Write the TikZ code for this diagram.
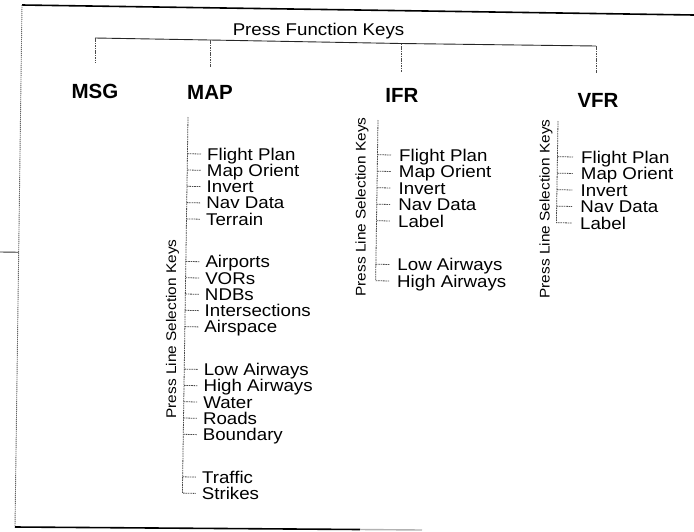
\documentclass[tikz,border=0pt]{standalone}
\usepackage{fontspec}
\setmainfont{Liberation Sans}
\newfontfamily\widefont{Liberation Sans}[FakeStretch=1.1]
\usetikzlibrary{calc}
\begin{document}
\begin{tikzpicture}[x=1pt,y=-1pt,
  itemtext/.style={font=\widefont\fontsize{17}{17}\selectfont, anchor=west, inner sep=0pt, text height=12pt, text depth=0pt},
  headtext/.style={font=\bfseries\fontsize{20.5}{20.5}\selectfont, inner sep=0pt, text height=14.5pt, text depth=0pt},
  sidetext/.style={font=\widefont\fontsize{14}{14}\selectfont, rotate=90, inner sep=0pt},
  titletext/.style={font=\widefont\fontsize{17}{17}\selectfont, inner sep=0pt, text height=12pt, text depth=0pt},
  conn/.style={draw=black!70, line width=0.8pt, dash pattern=on 1.6pt off 0.8pt},
  bracket/.style={draw=black!85, line width=0.9pt},
  framebold/.style={draw=black, line width=1.6pt},
  framethin/.style={draw=black!60, line width=0.9pt, dash pattern=on 1.2pt off 0.8pt},
]
\useasboundingbox (0,0) rectangle (694,531);

% frame
\coordinate (tl) at (22,5);
\coordinate (tr) at (694,15);
\coordinate (bl) at (15,527);
\coordinate (bm) at (360,529.5);
\coordinate (br) at (422,530);
\coordinate (lefttick) at (0,252);
\draw[framebold] (tl) -- (tr);
\draw[framethin] (tl) -- (bl);
\draw[framebold] (bl) -- (bm);
\draw[draw=black!30, line width=1.4pt] (bm) -- (br);
\draw[draw=black!80, line width=0.9pt] (lefttick) -- ($(tl)!(lefttick)!(bl)$);

% title and heads
\node[titletext] (title) at (318.5,29) {Press Function Keys};
\node[headtext] (msg) at (95,91.5) {MSG};
\node[headtext] (map) at (210,92.5) {MAP};
\node[headtext] (ifr) at (402,95.5) {IFR};
\node[headtext] (vfr) at (598,100) {VFR};

\coordinate (b1) at (95,38);
\coordinate (b2) at (210,40);
\coordinate (b3) at (401,43.5);
\coordinate (b4) at (596,46);
\draw[bracket] (b1) -- (b2) -- (b3) -- (b4);
\draw[conn, shorten >=22pt] (b1) -- (b1 |- msg.north);
\draw[conn, shorten >=18pt] (b2) -- (b2 |- map.north);
\draw[conn, shorten >=16pt] (b3) -- (b3 |- ifr.north);
\draw[conn, shorten >=20pt] (b4) -- (b4 |- vfr.north);

% MAP list
\node[sidetext] (mapside) at (172.5,329) {Press Line Selection Keys};
\coordinate (mtop) at (188,117);
\coordinate (mbot) at (182.3,500);
\foreach \t/\y [count=\k] in {Flight Plan/154, Map Orient/170.3, Invert/186.6, Nav Data/202.9, Terrain/219.2,
  Airports/261.7, VORs/278, NDBs/294.3, Intersections/310.6, Airspace/326.9,
  Low Airways/369.4, High Airways/385.7, Water/402, Roads/418.3, Boundary/434.6,
  Traffic/477.1, Strikes/493.4}
  \node[itemtext] (m\k) at ({207-0.0157*(\y-154)},\y) {\t};
\foreach \k in {1,...,16}
  \draw[conn] ($(mtop)!(m\k.west)!(mbot)$) -- ([xshift=-6pt]m\k.west);
\draw[conn] (mtop) -- ($(mtop)!(m17.west)!(mbot)$) -- ([xshift=-6pt]m17.west);

% IFR list
\node[sidetext] (ifrside) at (362,207) {Press Line Selection Keys};
\coordinate (itop) at (378,120);
\coordinate (ibot) at (375.5,290);
\foreach \t/\y [count=\k] in {Flight Plan/155, Map Orient/171.5, Invert/188, Nav Data/204.5, Label/221,
  Low Airways/264.5, High Airways/281}
  \node[itemtext] (i\k) at ({399-0.0157*(\y-155)},\y) {\t};
\foreach \k in {1,...,6}
  \draw[conn] ($(itop)!(i\k.west)!(ibot)$) -- ([xshift=-8pt]i\k.west);
\draw[conn] (itop) -- ($(itop)!(i7.west)!(ibot)$) -- ([xshift=-8pt]i7.west);

% VFR list
\node[sidetext] (vfrside) at (546,209) {Press Line Selection Keys};
\coordinate (vtop) at (558,121);
\coordinate (vbot) at (556.3,230);
\foreach \t/\y [count=\k] in {Flight Plan/157, Map Orient/173.5, Invert/190, Nav Data/206.5, Label/223}
  \node[itemtext] (v\k) at ({581-0.0157*(\y-157)},\y) {\t};
\foreach \k in {1,...,4}
  \draw[conn] ($(vtop)!(v\k.west)!(vbot)$) -- ([xshift=-8pt]v\k.west);
\draw[conn] (vtop) -- ($(vtop)!(v5.west)!(vbot)$) -- ([xshift=-8pt]v5.west);
\end{tikzpicture}
\end{document}
